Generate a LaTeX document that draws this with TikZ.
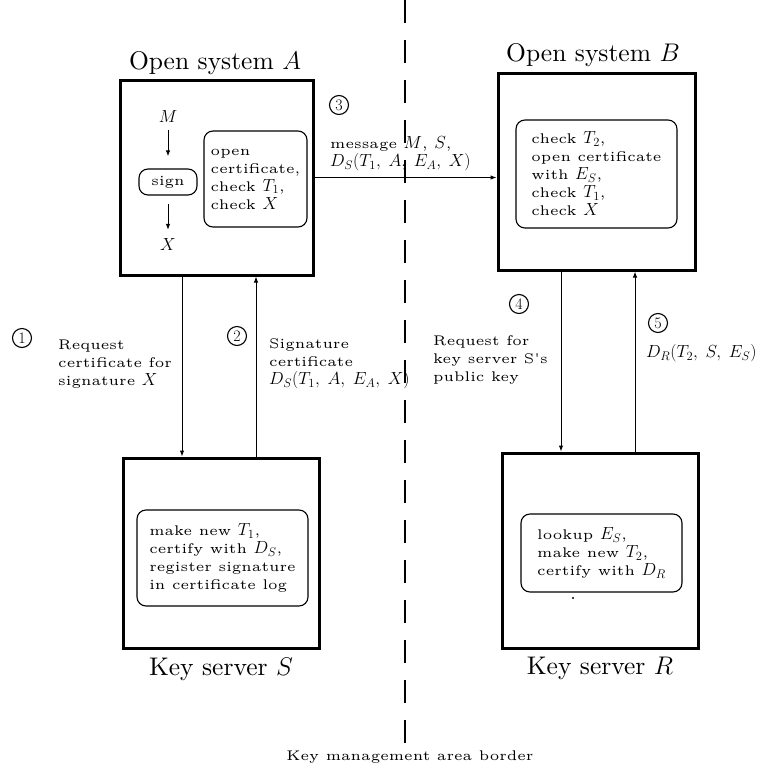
\RequirePackage{fix-cm}
\documentclass[tikz,border=0pt]{standalone}
\usepackage{fontspec}
\newfontfamily\lbl{lmroman5-regular.otf}
\newfontfamily\ttl{lmroman10-regular.otf}
\usetikzlibrary{arrows.meta}
\DeclareMathSizes{14}{17.5}{12.5}{10}
\newcommand\lblfont{\lbl\fontsize{14}{18}\selectfont}
\newcommand\titlefont{\ttl\fontsize{25.5}{30}\selectfont}
\newcommand\numfont{\fontsize{16}{16}\selectfont}
\begin{document}
\begin{tikzpicture}[x=1pt,y=-1pt,
  bigbox/.style={draw, line width=3pt, inner sep=0},
  inbox/.style={draw, line width=1.1pt, rounded corners=9pt, align=left, font=\lblfont, inner sep=0},
  title/.style={font=\titlefont, inner sep=0},
  lab/.style={font=\lblfont, align=left, inner sep=0},
  num/.style={circle, draw, line width=1.1pt, minimum size=19pt, inner sep=0, font=\numfont},
  arr/.style={line width=1pt, -{Latex[length=6pt,width=4.5pt]}},
  border/.style={line width=1.2pt, dash pattern=on 23pt off 17pt}
]
\useasboundingbox (0,0) rectangle (771,772);

% main boxes
\node[bigbox, minimum width=193, minimum height=195] (A) at (216.5,177.5) {};
\node[bigbox, minimum width=197, minimum height=197] (B) at (596.5,171.5) {};
\node[bigbox, minimum width=196, minimum height=190] (S) at (221,553) {};
\node[bigbox, minimum width=196, minimum height=195] (R) at (600,550.5) {};

% titles
\node[title] (tA) at (215,63) {Open system $A$};
\node[title] (tB) at (593,55) {Open system $B$};
\node[title] (tS) at (221,669) {Key server $S$};
\node[title] (tR) at (600,668) {Key server $R$};

% inside A
\node[lab] (M) at (168,117) {$M$};
\node[inbox, minimum width=58, minimum height=26] (sign) at (168,182) {sign};
\node[lab] (X) at (168,245) {$X$};
\draw[arr, shorten <=7pt, shorten >=12pt] (M) -- (sign);
\draw[arr, shorten <=8pt, shorten >=9pt] (sign) -- (X);
\node[inbox, minimum width=103, minimum height=96] (iA) at (255.5,179)
  {open\\certificate,\\check $T_1$,\\check $X$};

% inside B
\node[inbox, minimum width=161, minimum height=108] (iB) at (596.5,174)
  {check $T_2$,\\open certificate\\with $E_S$,\\check $T_1$,\\check $X$};

% inside S
\node[inbox, minimum width=171, minimum height=96] (iS) at (222.5,558)
  {make new $T_1$,\\certify with $D_S$,\\register signature\\in certificate log};

% inside R
\node[inbox, minimum width=161, minimum height=78] (iR) at (601.5,553)
  {lookup $E_S$,\\make new $T_2$,\\certify with $D_R$};
\fill (573,598) circle (1.1pt);

% x positions of vertical connectors
\coordinate (x1) at (182,0);
\coordinate (x2) at (256,0);
\coordinate (x4) at (561,0);
\coordinate (x5) at (635,0);

% connectors
\draw[arr] (A.east) -- (A.east -| B.west);
\draw[arr] (A.south -| x1) -- (S.north -| x1);
\draw[arr] (S.north -| x2) -- (A.south -| x2);
\draw[arr] (B.south -| x4) -- (R.north -| x4);
\draw[arr] (R.north -| x5) -- (B.south -| x5);

% border
\coordinate (btop) at (405,0);
\coordinate (bbot) at (405,745);
\draw[border] (btop) -- (bbot);
\node[lab] (cap) at (410,757) {Key management area border};

% numbers
\node[num] (n1) at (22,338) {1};
\node[num] (n2) at (237,336) {2};
\node[num] (n3) at (339,105) {3};
\node[num] (n4) at (519,304) {4};
\node[num] (n5) at (658,323) {5};

% labels
\node[lab, anchor=west] (l1) at (58,364) {Request\\certificate for\\signature $X$};
\node[lab, anchor=west] (l2) at (269,364) {Signature\\certificate\\$D_S(T_1,\;A,\;E_A,\;X)$};
\node[lab, anchor=west] (l3) at (330,154) {message $M$, $S$,\\$D_S(T_1,\;A,\;E_A,\;X)$};
\node[lab, anchor=west] (l4) at (433,360) {Request for\\key server S's\\public key};
\node[lab, anchor=west] (l5) at (646,353) {$D_R(T_2,\;S,\;E_S)$};
\end{tikzpicture}
\end{document}
